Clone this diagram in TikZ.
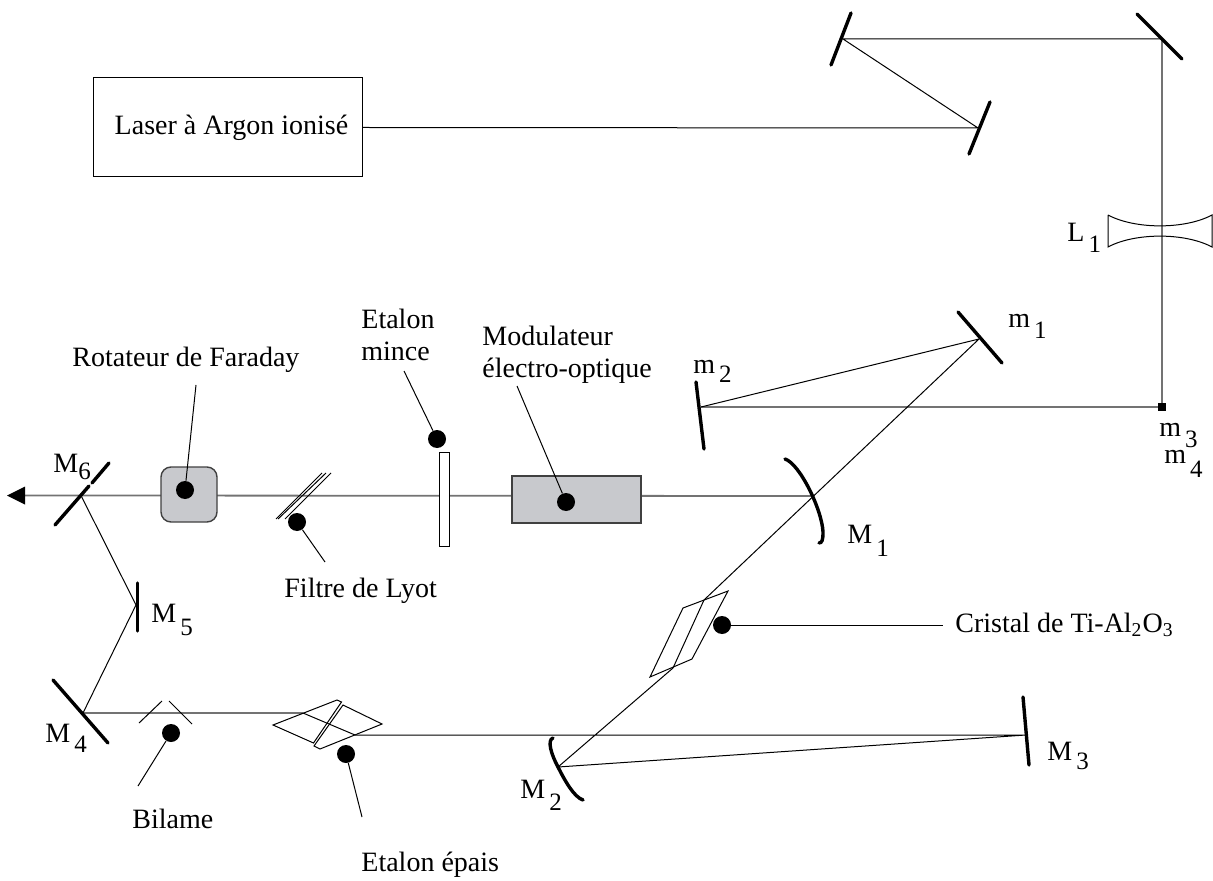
\documentclass[tikz,border=0pt]{standalone}
\usepackage{fontspec}
\setmainfont{Liberation Serif}
\newcommand{\indice}[3][5.5pt]{#2\kern2pt\raisebox{-#1}{\fontsize{12.5}{12.5}\selectfont #3}}
\definecolor{boitegris}{RGB}{200,201,205}
\tikzset{
  beam/.style={line width=0.5pt},
  beamgris/.style={line width=0.9pt,black!55},
  miroir/.style={line width=1.7pt,line cap=round},
  fin/.style={line width=0.5pt},
  point/.style={circle,fill=black,inner sep=0pt,minimum size=9pt},
  boite/.style={draw=black!75,line width=0.7pt,fill=boitegris,inner sep=0pt},
  etiq/.style={font=\fontsize{14}{16}\selectfont,inner sep=0pt},
  repere/.style={etiq,anchor=base west}
}
\begin{document}
\begin{tikzpicture}[x=0.5pt,y=-0.5pt]
  \useasboundingbox (0,0) rectangle (1213,881);

  % points du faisceau
  \coordinate (a1) at (978,128);
  \coordinate (a2) at (843,39);
  \coordinate (a3) at (1162,39);
  \coordinate (a4) at (1162,407);
  \coordinate (pm2) at (701,407);
  \coordinate (pm1) at (979,339);
  \coordinate (pM1) at (813,496);
  \coordinate (pM2) at (558,767);
  \coordinate (pM3) at (1026,735);
  \coordinate (pM4) at (83,713);
  \coordinate (pM5) at (136,605);
  \coordinate (pM6) at (81,495.5);
  \coordinate (c1) at (704,600);
  \coordinate (c2) at (673,668);
  \coordinate (e1) at (303,713);
  \coordinate (e2) at (355,735);
  \coordinate (sortie) at (25,495.5);

  % laser
  \node[draw,line width=0.5pt,minimum width=134.5pt,minimum height=49.5pt,inner sep=0pt]
    (laser) at (227.5,127.5) {};
  \node[etiq] (laserT) at (231.5,128) {Laser à Argon ionisé};

  % faisceau
  \draw[beam] (laser.east) -- (a1) -- (a2) -- (a3);
  \draw[beamgris] (a3) -- (a4) -- (pm2);
  \draw[beam] (pm2) -- (pm1) -- (c1) -- (c2) -- (pM2) -- (pM3) -- (e2) -- (e1);
  \draw[beamgris] (e1) -- (pM4);
  \draw[beam] (pM4) -- (pM5) -- (pM6);
  \draw[beamgris] (pM1) -- (pM6) -- (sortie);
  \fill (sortie) ++(0,-9) -- ++(0,18) -- (7,495.5) -- cycle;

  % miroirs
  \draw[miroir] (969,154) -- (990,102);
  \draw[miroir] (831,65) -- (851,13);
  \draw[miroir] (1137,14) -- (1182,59);
  \draw[miroir] (958,312) -- (1002,363);
  \draw[miroir] (696,382) -- (704,449);
  \draw[miroir] (1023,697) -- (1029,765);
  \draw[miroir] (137.5,583) -- (137.5,631);
  \draw[miroir] (53,680) -- (108,743);
  \draw[miroir] (55,525) -- (89,486);
  \draw[miroir] (92,483) -- (109,463);
  \draw[miroir] (785,459) .. controls (800,464) and (822,510) .. (823,532) .. controls (823,540) and (822,543) .. (819,543);
  \draw[miroir] (553,738) .. controls (547,740) and (551,754) .. (558,767) .. controls (565,781) and (574,797) .. (583,800);

  % lentille
  \draw[fin] (1108,215) -- (1108,247) .. controls (1135,232.5) and (1185,232.5) .. (1212,247) -- (1212,215) .. controls (1185,229.5) and (1135,229.5) .. (1108,215);
  \fill (1158,403) rectangle (1166,411);

  % rotateur
  \node[boite,rounded corners=5pt,minimum width=28pt,minimum height=27.5pt] (faraday) at (189,494.5) {};
  \node[point] (dotFaraday) at (185,490) {};
  \coordinate (tFaraday) at (196,385);
  \draw[fin] (dotFaraday) -- (tFaraday);

  % filtre
  \draw[fin] (276,519) -- (322,473);
  \draw[fin] (278,519) -- (326,473);
  \draw[fin] (285,519) -- (331,473);
  \node[point] (dotLyot) at (297,522) {};
  \coordinate (tLyot) at (325,562);
  \draw[fin] (dotLyot) -- (tLyot);

  % etalon mince
  \node[draw,fill=white,line width=0.5pt,minimum width=5pt,minimum height=47pt,inner sep=0pt] (mince) at (444.5,499) {};
  \node[point] (dotMince) at (437,439) {};
  \coordinate (tMince) at (404,371);
  \draw[fin] (dotMince) -- (tMince);

  % modulateur
  \node[boite,minimum width=64.5pt,minimum height=23.5pt] (modul) at (576.5,499.5) {};
  \node[point] (dotModul) at (566,502) {};
  \coordinate (tModul) at (517,386);
  \draw[fin] (dotModul) -- (tModul);

  % cristal
  \draw[fin] (683,608) -- (728,591) -- (692,659) -- (650,677) -- cycle;
  \node[point] (dotCristal) at (722,625) {};
  \coordinate (tCristal) at (943,625);
  \draw[fin] (dotCristal) -- (tCristal);

  % etalon epais
  \draw[fin] (273,725) -- (337,700) -- (341.5,702) -- (313.5,743) -- cycle;
  \draw[fin] (343,705) -- (382,724) -- (320,749) -- (314,746) -- cycle;
  \node[point] (dotEpais) at (346,754) {};
  \coordinate (tEpais) at (362,817);
  \draw[fin] (dotEpais) -- (tEpais);

  % bilame
  \draw[fin] (139,723) -- (162,701);
  \draw[fin] (169,701) -- (192,724);
  \node[point] (dotBilame) at (171,733) {};
  \coordinate (tBilame) at (138,786);
  \draw[fin] (dotBilame) -- (tBilame);

  % textes
  \node[repere] (lFaraday) at (72,367) {Rotateur de Faraday};
  \node[repere] (lEtalon) at (361,329) {Etalon};
  \node[repere] (lMince) at (361,361) {mince};
  \node[repere] (lModul) at (482,346) {Modulateur};
  \node[repere] (lElectro) at (482,378) {électro-optique};
  \node[repere] (lLyot) at (284,597) {Filtre de Lyot};
  \node[repere] (lBilame) at (132,828) {Bilame};
  \node[repere] (lEpais) at (361,871) {Etalon épais};
  \node[repere] (lCristal) at (955,632) {Cristal de Ti-Al\textsubscript{2}O\textsubscript{3}};

  \node[repere] (lL1) at (1067,242) {\indice{L}{1}};
  \node[repere] (lm1) at (1008,328) {\indice{m}{1}};
  \node[repere] (lm2) at (693,374) {\indice[4.5pt]{m}{2}};
  \node[repere] (lm3) at (1159,437) {\indice{m}{3}};
  \node[repere] (lm4) at (1164,463) {\indice[7pt]{m}{4}};
  \node[repere] (lM1) at (847,543) {\indice[6.5pt]{M}{1}};
  \node[repere] (lM2) at (520,798) {\indice[6pt]{M}{2}};
  \node[repere] (lM3) at (1047,760) {\indice[4.5pt]{M}{3}};
  \node[repere] (lM4) at (45,742) {\indice[5pt]{M}{4}};
  \node[repere] (lM5) at (151,622) {\indice[6.5pt]{M}{5}};
  \node[repere] (lM6) at (53,472) {M\raisebox{-3.5pt}{\fontsize{12.5}{12.5}\selectfont 6}};
\end{tikzpicture}
\end{document}
